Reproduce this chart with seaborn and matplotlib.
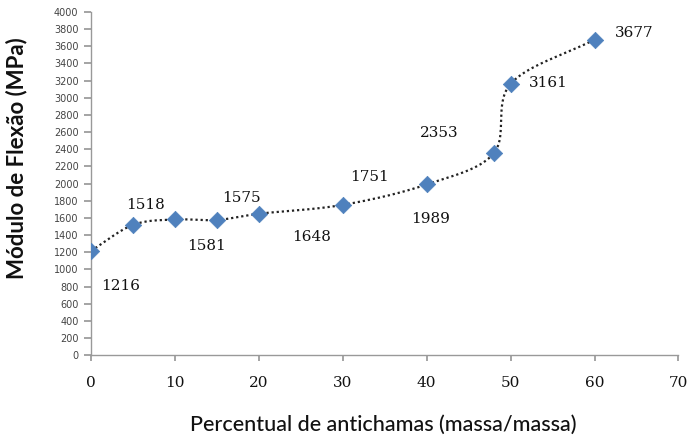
import numpy as np
import pandas as pd
import matplotlib
matplotlib.use("Agg")
import matplotlib.pyplot as plt
import seaborn as sns

# Data
antichamas = [0, 5, 10, 15, 20, 30, 40, 48, 50, 60]
modulo = [1216, 1518, 1581, 1575, 1648, 1751, 1989, 2353, 3161, 3677]
labels = ["1216", "1518", "1581", "1575", "1648", "1751", "1989", "2353", "3161", "3677"]
x_ticks = [0, 10, 20, 30, 40, 50, 60, 70]
y_ticks = list(range(0, 4001, 200))

# label offsets in pixels (dx, dy)
offsets = [(30, -35), (13, 20), (32, -27), (25, 22), (53, -23), (27, 28), (4, -35), (-55, 20), (38, 1), (40, 7)]

sns.set_theme(style="white")
plt.rcParams['font.family'] = ['DejaVu Sans']

fig = plt.figure(figsize=(6.87, 4.38), dpi=100)
ax = fig.add_axes([0.1325, 0.189, 0.855, 0.784])

# Bezier smoothing in screen-scaled space (Excel-like smoothed line)
xs = np.array(antichamas, float) / 70 * 588
ys = np.array(modulo, float) / 4000 * 343
P = np.column_stack([xs, ys])
Pext = np.vstack([2 * P[0] - P[1], P, 2 * P[-1] - P[-2]])
curve = []
for i in range(1, len(Pext) - 2):
    p0, p1, p2, p3 = Pext[i - 1], Pext[i], Pext[i + 1], Pext[i + 2]
    c1 = p1 + (p2 - p0) / 6
    c2 = p2 - (p3 - p1) / 6
    t = np.linspace(0, 1, 40)[:, None]
    seg = (1 - t) ** 3 * p1 + 3 * (1 - t) ** 2 * t * c1 + 3 * (1 - t) * t ** 2 * c2 + t ** 3 * p2
    curve.append(seg if i == 1 else seg[1:])
curve = np.vstack(curve)
smooth = pd.DataFrame({"x": curve[:, 0] / 588 * 70, "y": curve[:, 1] / 343 * 4000})

sns.lineplot(data=smooth, x="x", y="y", sort=False, ax=ax, color="#222222",
             linestyle=(0, (1, 1.3)), linewidth=1.6, zorder=2)

df = pd.DataFrame({"x": antichamas, "y": modulo})
sns.scatterplot(data=df, x="x", y="y", ax=ax, marker="D", s=70, color="#4F81BD",
                edgecolor="#4F81BD", linewidth=0.5, zorder=3)

for xv, yv, lab, (dx, dy) in zip(antichamas, modulo, labels, offsets):
    ax.annotate(lab, (xv, yv), xytext=(dx, dy), textcoords="offset pixels",
                ha="center", va="center", fontsize=11, family="DejaVu Serif", color="#111111")

ax.set_xlim(0, 70)
ax.set_ylim(0, 4000)
ax.set_xticks(x_ticks)
ax.set_yticks(y_ticks)
ax.set_xticklabels([str(v) for v in x_ticks], fontsize=11, family="DejaVu Serif", color="#111111")
ax.set_yticklabels([str(v) for v in y_ticks], fontsize=7, color="#444444")
ax.tick_params(axis="x", direction="out", length=4, color="#999999", pad=11, bottom=True)
ax.tick_params(axis="y", direction="out", length=5, color="#999999", pad=4, left=True)

for s in ["top", "right"]:
    ax.spines[s].set_visible(False)
for s in ["left", "bottom"]:
    ax.spines[s].set_color("#999999")
    ax.spines[s].set_linewidth(1)

ax.set_xlabel("")
ax.set_ylabel("")
fig.text(383 / 687, 1 - 425 / 438, "Percentual de antichamas (massa/massa)", fontsize=15.5,
         family="Lato", fontweight="medium", color="#111111", ha="center", va="center")
fig.text(17 / 687, 1 - 158 / 438, "Módulo de Flexão (MPa)", fontsize=16,
         family="Lato", fontweight="bold", color="#111111", ha="center", va="center",
         rotation=90)

fig.savefig("out.png", dpi=100)
